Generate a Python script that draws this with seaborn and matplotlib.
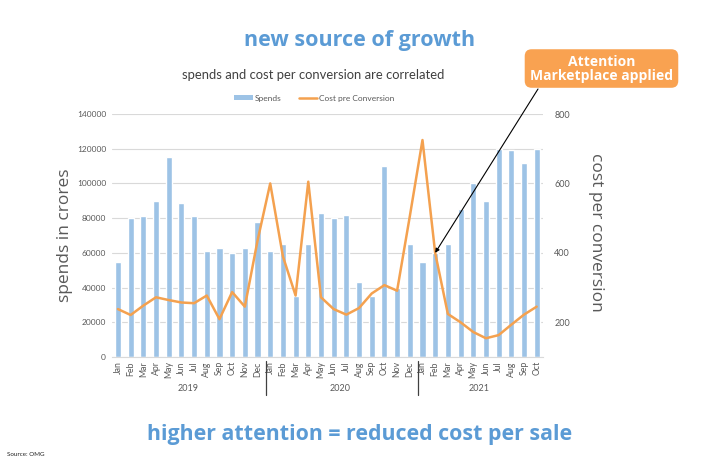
import numpy as np
import pandas as pd
import matplotlib
matplotlib.use("Agg")
import matplotlib.pyplot as plt
import matplotlib.transforms as mtransforms
from matplotlib.patches import Patch
from matplotlib.lines import Line2D
import seaborn as sns

# ---- data ----
months = ["Jan", "Feb", "Mar", "Apr", "May", "Jun", "Jul", "Aug", "Sep", "Oct", "Nov", "Dec",
          "Jan", "Feb", "Mar", "Apr", "May", "Jun", "Jul", "Aug", "Sep", "Oct", "Nov", "Dec",
          "Jan", "Feb", "Mar", "Apr", "May", "Jun", "Jul", "Aug", "Sep", "Oct"]
years = ["2019", "2020", "2021"]
year_counts = [12, 12, 10]
spends = [55000, 80000, 81000, 90000, 115000, 89000, 81000, 61000, 63000, 60000, 63000, 78000,
          61000, 65000, 35000, 65000, 83000, 80000, 82000, 43000, 35000, 110000, 40000, 65000,
          55000, 60000, 65000, 85000, 100000, 90000, 120000, 119000, 112000, 120000]
cost_per_conversion = [238, 221, 248, 272, 264, 257, 255, 277, 209, 287, 245, 435,
                       600, 390, 277, 605, 272, 238, 222, 241, 283, 307, 291, 505,
                       725, 400, 224, 200, 172, 154, 163, 193, 222, 245]
left_ticks = [0, 20000, 40000, 60000, 80000, 100000, 120000, 140000]
right_ticks = [200, 400, 600, 800]

df = pd.DataFrame({"idx": np.arange(len(months)), "month": months,
                   "spends": spends, "cost": cost_per_conversion})

BAR = "#9DC3E6"
LINE = "#F4A14F"
BLUE = "#5B9BD5"
GRAY = "#595959"
GRID = "#D9D9D9"

sns.set_theme(style="white")
plt.rcParams["font.family"] = ["Lato", "DejaVu Sans"]

fig = plt.figure(figsize=(7.2, 4.68), dpi=100)
ax = fig.add_axes([0.155, 0.2372, 0.5992, 0.5192])

sns.barplot(data=df, x="idx", y="spends", color=BAR, saturation=1, width=0.48, ax=ax)
ax.set_ylim(0, 140000)
ax.set_xlim(-0.5, len(months) - 0.5)
ax.set_yticks(left_ticks)
ax.set_yticklabels([str(t) for t in left_ticks], fontsize=6, color=GRAY)
ax.set_xticks(range(len(months)))
ax.set_xticklabels(months, rotation=90, fontsize=6.3, color=GRAY)
ax.tick_params(axis="both", length=0)
ax.tick_params(axis="y", pad=4)
ax.tick_params(axis="x", pad=3)
ax.set_xlabel("")
ax.set_ylabel("")
ax.grid(axis="y", color=GRID, lw=0.8)
ax.set_axisbelow(True)
for s in ["left", "right", "top"]:
    ax.spines[s].set_visible(False)
ax.spines["bottom"].set_color(GRID)
ax.spines["bottom"].set_linewidth(0.8)

ax2 = ax.twinx()
sns.lineplot(data=df, x="idx", y="cost", color=LINE, lw=1.8, ax=ax2)
ax2.set_ylim(100, 800)
ax2.set_yticks(right_ticks)
ax2.set_yticklabels([str(t) for t in right_ticks], fontsize=6.5, color=GRAY)
ax2.tick_params(axis="y", length=0, pad=8)
ax2.set_xlabel("")
ax2.set_ylabel("")
ax2.grid(False)
for s in ["left", "right", "top", "bottom"]:
    ax2.spines[s].set_visible(False)
ax2.set_xlim(-0.5, len(months) - 0.5)

# year labels and separators
trans = mtransforms.blended_transform_factory(ax.transData, ax.transAxes)
start = 0
for i, (yr, n) in enumerate(zip(years, year_counts)):
    center = start + (n - 1) / 2
    ax.text(center, -0.128, yr, transform=trans, ha="center", va="center",
            fontsize=6.5, color=GRAY)
    if i > 0:
        ax.plot([start - 0.32, start - 0.32], [-0.015, -0.155], transform=trans,
                color="#404040", lw=0.9, clip_on=False)
    start += n

# legend
handles = [Patch(facecolor=BAR, edgecolor="none", label="Spends"),
           Line2D([0], [0], color=LINE, lw=1.8, label="Cost pre Conversion")]
fig.legend(handles=handles, loc="center", bbox_to_anchor=(0.437, 0.790), ncol=2,
           frameon=False, fontsize=6, handlelength=2.2, handleheight=0.6,
           columnspacing=2.0, handletextpad=0.3, labelcolor=GRAY)

# titles
fig.text(0.5, 0.914, "new source of growth", ha="center", va="center",
         fontsize=15.5, fontweight="bold", color=BLUE, family=["Open Sans", "DejaVu Sans"])
fig.text(0.435, 0.840, "spends and cost per conversion are correlated", ha="center",
         va="center", fontsize=9.4, color="#404040")
fig.text(0.5, 0.071, "higher attention = reduced cost per sale", ha="center", va="center",
         fontsize=15.4, fontweight="bold", color=BLUE, family=["Open Sans", "DejaVu Sans"])
fig.text(0.01, 0.028, "Source: OMG", ha="left", va="center", fontsize=4.5, color="#222222")

# axis labels
fig.text(0.09, 0.498, "spends in crores", rotation=90, ha="center", va="center",
         fontsize=12.5, color=GRAY, family=["Open Sans", "DejaVu Sans"])
fig.text(0.828, 0.504, "cost per conversion", rotation=270, ha="center", va="center",
         fontsize=12.5, color=GRAY, family=["Open Sans", "DejaVu Sans"])

# annotation
fig.text(0.8354, 0.8536, "Attention\nMarketplace applied", ha="center", va="center",
         fontsize=10, fontweight="bold", color="white", linespacing=1.0,
         family=["Open Sans", "DejaVu Sans"],
         bbox=dict(boxstyle="round,pad=0.38,rounding_size=0.5", facecolor="#F9A251",
                   edgecolor="none"))
ax2.annotate("", xy=(25, 400), xycoords="data", xytext=(538 / 720, 1 - 89 / 468),
             textcoords="figure fraction",
             arrowprops=dict(arrowstyle="-|>", color="black", lw=0.8,
                             mutation_scale=6, shrinkA=0, shrinkB=0))

fig.savefig("out.png", dpi=100)
